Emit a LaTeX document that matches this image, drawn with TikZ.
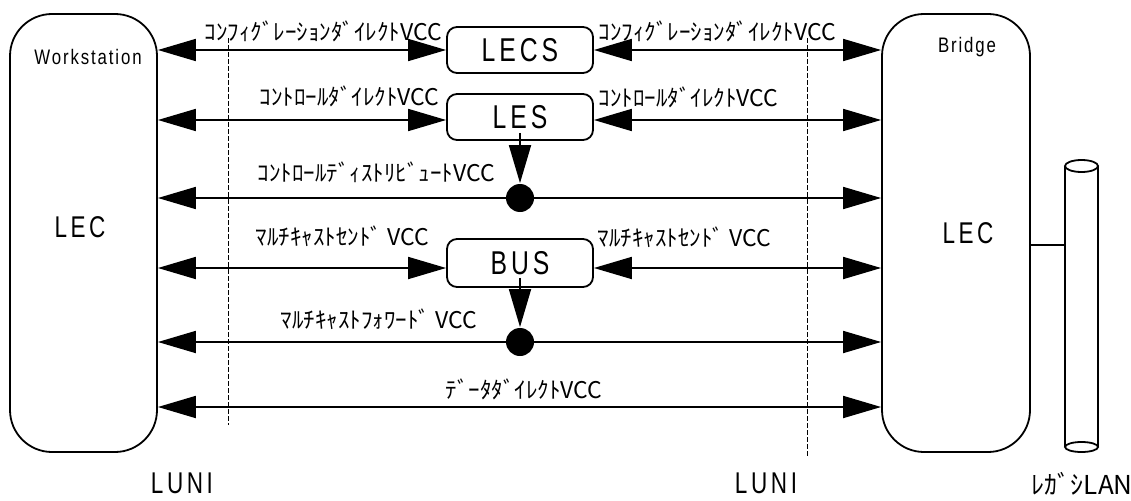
\documentclass[tikz,border=0pt]{standalone}
\usepackage{fontspec}
\setmainfont{Liberation Sans}
\newfontfamily\bigf{Liberation Sans}[FakeStretch=0.75,LetterSpace=12]
\newfontfamily\smallf{Liberation Sans}[FakeStretch=0.8,LetterSpace=9]
\newfontfamily\jp{Noto Sans CJK JP}
\usetikzlibrary{arrows.meta}
\begin{document}
\begin{tikzpicture}[x=1pt,y=-1pt,line width=1.8pt,
  tipend/.style={-{Triangle[length=38pt,width=22pt]}},
  dbl/.style={{Triangle[length=38pt,width=22pt]}-{Triangle[length=38pt,width=22pt]}},
  bigbox/.style={draw,rounded corners=42pt,minimum width=147pt,minimum height=438pt,inner sep=0pt},
  srv/.style={draw,rounded corners=10pt,minimum width=146pt,minimum height=46pt,inner sep=0pt,font=\bigf\fontsize{33}{33}\selectfont},
  dotn/.style={circle,fill=black,minimum size=28pt,inner sep=0pt},
  lbl/.style={anchor=west,inner sep=0pt,font=\jp\fontsize{23}{23}\selectfont},
  big/.style={inner sep=0pt,font=\bigf\fontsize{30}{30}\selectfont},
  luni/.style={inner sep=0pt,font=\bigf\fontsize{30}{30}\selectfont},
  small/.style={inner sep=0pt,font=\smallf\fontsize{21}{21}\selectfont},
  lunline/.style={line width=0.9pt,dash pattern=on 5pt off 2pt}]
\useasboundingbox (0,0) rectangle (1131,500);
% boxes
\node[bigbox] (ws) at (83.5,233) {};
\node[bigbox,minimum width=148pt] (br) at (956,233) {};
\node[srv] (lecs) at (520,50) {LECS};
\node[srv] (les) at (520,117) {LES};
\node[srv,minimum height=48pt] (bus) at (520,263) {BUS};
\node[dotn] (d1) at (520,198) {};
\node[dotn] (d2) at (520,342) {};
\coordinate (d3) at (520,407);
% texts in big boxes
\node[small] (wst) at (88,57) {Workstation};
\node[small] (brt) at (967,47) {Bridge};
\node[big] (lec1) at (80,227) {LEC};
\node[big] (lec2) at (968,233) {LEC};
% LUNI dashed lines
\draw[lunline] (228,38) -- (228,425);
\draw[lunline] (807,38) -- (807,457);
% arrows
\draw[dbl] (lecs.west -| ws.east) -- (lecs.west);
\draw[dbl] (lecs.east) -- (lecs.east -| br.west);
\draw[dbl] ([yshift=-3pt]les.west -| ws.east) -- ([yshift=-3pt]les.west);
\draw[dbl] ([yshift=-3pt]les.east) -- ([yshift=-3pt]les.east -| br.west);
\draw[tipend] ([yshift=8pt]les.south) -- (d1.north);
\draw[tipend] (d1.center) -- (d1 -| ws.east);
\draw[tipend] (d1.center) -- (d1 -| br.west);
\draw[dbl] ([yshift=-5pt]bus.west -| ws.east) -- ([yshift=-5pt]bus.west);
\draw[dbl] ([yshift=-5pt]bus.east) -- ([yshift=-5pt]bus.east -| br.west);
\draw[tipend] ([yshift=10pt]bus.south) -- (d2.north);
\draw[tipend] (d2.center) -- (d2 -| ws.east);
\draw[tipend] (d2.center) -- (d2 -| br.west);
\draw[dbl] (d3 -| ws.east) -- (d3 -| br.west);
% labels
\node[lbl] (l1a) at (204,31) {ｺﾝﾌｨｸﾞﾚｰｼｮﾝﾀﾞｲﾚｸﾄVCC};
\node[lbl] (l1b) at (598,31) {ｺﾝﾌｨｸﾞﾚｰｼｮﾝﾀﾞｲﾚｸﾄVCC};
\node[lbl] (l2a) at (259,96) {ｺﾝﾄﾛｰﾙﾀﾞｲﾚｸﾄVCC};
\node[lbl] (l2b) at (598,97) {ｺﾝﾄﾛｰﾙﾀﾞｲﾚｸﾄVCC};
\node[lbl] (l3) at (257,172) {ｺﾝﾄﾛｰﾙﾃﾞｨｽﾄﾘﾋﾞｭｰﾄVCC};
\node[lbl] (l4a) at (255,236) {ﾏﾙﾁｷｬｽﾄｾﾝﾄﾞ VCC};
\node[lbl] (l4b) at (597,237) {ﾏﾙﾁｷｬｽﾄｾﾝﾄﾞ VCC};
\node[lbl] (l5) at (280,319) {ﾏﾙﾁｷｬｽﾄﾌｫﾜｰﾄﾞ VCC};
\node[lbl] (l6) at (445,389) {ﾃﾞｰﾀﾀﾞｲﾚｸﾄVCC};
% legacy LAN cylinder
\draw (1065,166) -- (1065,447);
\draw (1098,166) -- (1098,447);
\draw[fill=white] (1081.5,166) ellipse [x radius=16.5,y radius=6];
\draw (1081.5,447) ellipse [x radius=16.5,y radius=5];
\coordinate (lan) at (1065,245);
\draw (br.east |- lan) -- (lan);
% bottom texts
\node[luni] (u1) at (182,483) {LUNI};
\node[luni] (u2) at (766,483) {LUNI};
\node[lbl,font=\jp\fontsize{26}{26}\selectfont] (leg) at (1031,484) {ﾚｶﾞｼLAN};
\end{tikzpicture}
\end{document}
